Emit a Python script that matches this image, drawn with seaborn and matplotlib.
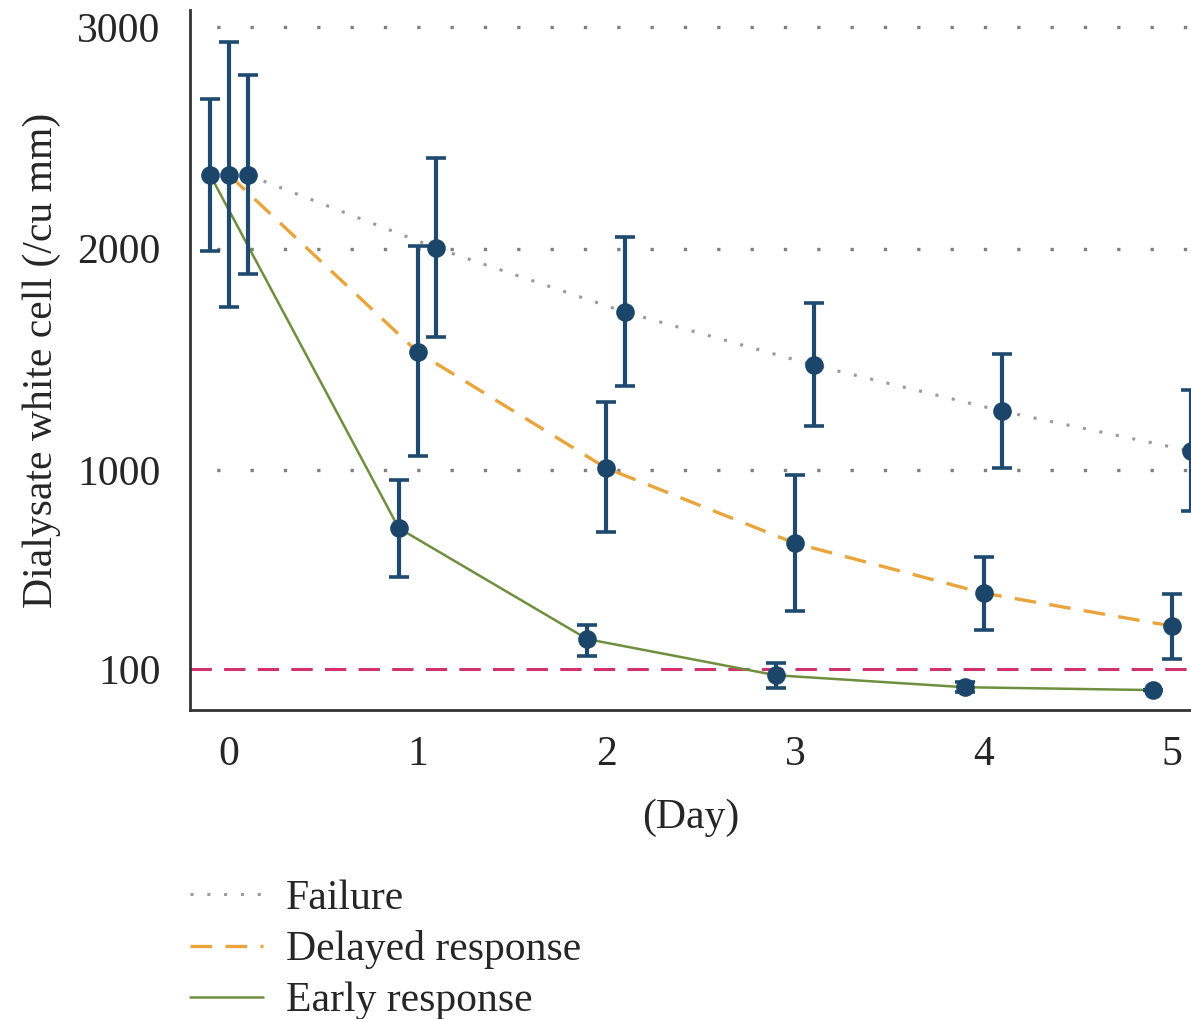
import numpy as np
import matplotlib
matplotlib.use("Agg")
import matplotlib.pyplot as plt
import seaborn as sns

sns.set_style("white")
plt.rcParams["font.family"] = ["Liberation Serif", "DejaVu Serif"]
plt.rcParams["font.size"] = 30

# values (cells / cu mm)
days = np.array([0, 1, 2, 3, 4, 5])

failure_mean = [2332, 2002, 1713, 1474, 1266, 1086]
failure_hi = [2783, 2409, 2052, 1754, 1524, 1361]
failure_lo = [1885, 1600, 1379, 1199, 1009, 815]

delayed_mean = [2332, 1533, 1009, 670, 445, 296]
delayed_hi = [2932, 2011, 1307, 977, 607, 440]
delayed_lo = [1736, 1063, 720, 363, 278, 147]

early_mean = [2332, 738, 237, 74, 20, 7]
early_hi = [2675, 955, 300, 129, 43, 7]
early_lo = [1989, 517, 160, 16, -2, 7]

groups = ["Failure", "Delayed response", "Early response"]
offsets = [0.1, 0.0, -0.1]
threshold = 100

line_styles = {
    "Failure": dict(color="#9a9a9a", linestyle=(0, (1, 4.5)), linewidth=2.2),
    "Delayed response": dict(color="#e9a43c", linestyle=(0, (6.5, 4)), linewidth=2.4),
    "Early response": dict(color="#6f8f3f", linestyle="-", linewidth=1.8),
}
err_color = "#1f4a70"

fig = plt.figure(figsize=(11.91, 10.19), dpi=100)
ax = fig.add_axes([0.1595, 0.3032, 0.8405, 0.687])

data = {
    "Failure": (failure_mean, failure_lo, failure_hi),
    "Delayed response": (delayed_mean, delayed_lo, delayed_hi),
    "Early response": (early_mean, early_lo, early_hi),
}

for y in [1000, 2000, 3000]:
    ax.axhline(y, color="#808080", linestyle=(2, (1, 9)), linewidth=2.4, zorder=1)
ax.axhline(threshold, color="#d0336b", linestyle=(0, (7, 4)), linewidth=2.2, zorder=1)

handles = []
for name, off in zip(groups, offsets):
    mean, lo, hi = (np.array(a) for a in data[name])
    x = days + off
    sns.lineplot(x=x, y=mean, ax=ax, zorder=2, **line_styles[name])
    handles.append(ax.lines[-1])
    ax.errorbar(x, mean, yerr=[mean - lo, hi - mean], fmt="none",
                ecolor=err_color, elinewidth=3.0, capsize=7.5, capthick=2.6, zorder=3)
    sns.scatterplot(x=x, y=mean, ax=ax, color="#1b4669", s=180,
                    edgecolor="#1b4669", linewidth=0, zorder=4)

ax.set_xlim(-0.207, 5.1)
ax.set_ylim(-83, 3077)
ax.set_xticks(days)
ax.set_yticks([100, 1000, 2000, 3000])
ax.set_xlabel("(Day)", labelpad=18)
ax.set_ylabel("Dialysate white cell (/cu mm)", labelpad=12)

for side in ["top", "right"]:
    ax.spines[side].set_visible(False)
for side in ["left", "bottom"]:
    ax.spines[side].set_color("#333333")
    ax.spines[side].set_linewidth(2)
ax.tick_params(axis="both", direction="out", length=9, width=1.6,
               color="#333333", labelsize=30)
ax.tick_params(axis="y", pad=12)
ax.tick_params(axis="x", pad=9)

fig.legend(handles, groups, loc="upper left", bbox_to_anchor=(0.1595, 0.137),
           frameon=False, handlelength=1.75, handletextpad=0.55,
           borderpad=0, borderaxespad=0, labelspacing=0.3, fontsize=30)

fig.savefig("out.png", dpi=100)
